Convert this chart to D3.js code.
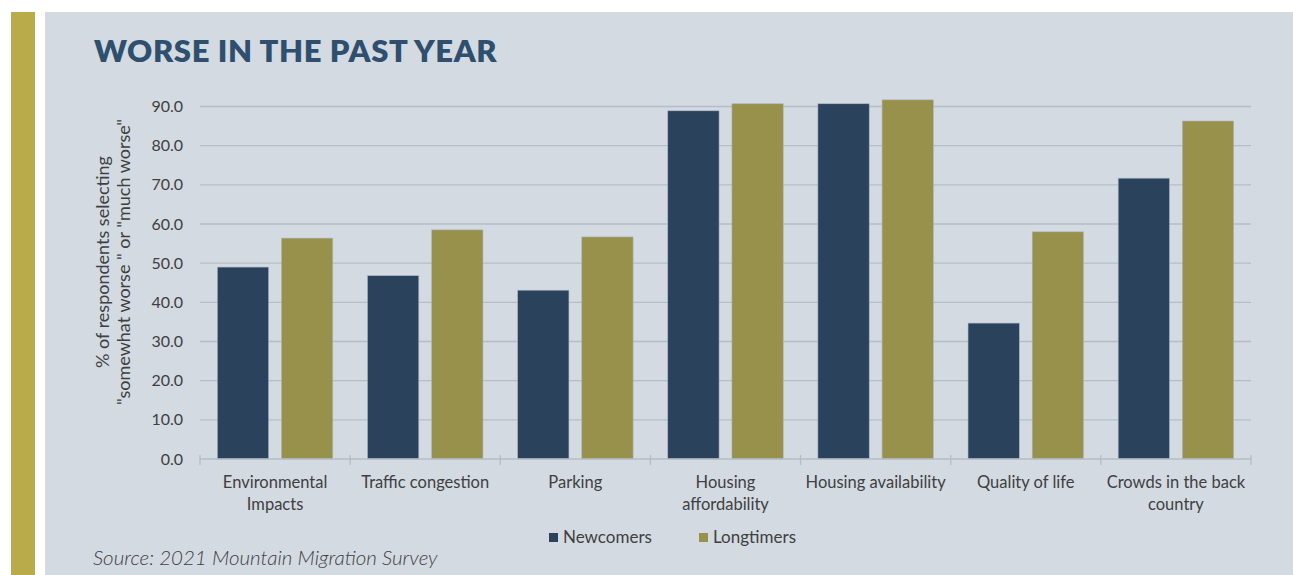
<!DOCTYPE html>
<html><head><meta charset="utf-8">
<script src="https://cdn.jsdelivr.net/npm/d3@7"></script>
<style>body{margin:0;background:#fff;}svg{display:block;}</style>
</head><body>
<svg id="c" width="1293" height="575"></svg>
<script>
const categories = [["Environmental","Impacts"],["Traffic congestion"],["Parking"],["Housing","affordability"],["Housing availability"],["Quality of life"],["Crowds in the back","country"]];
const seriesNames = ["Newcomers","Longtimers"];
const newcomers = [49.0, 46.8, 43.1, 88.9, 90.7, 34.7, 71.7];
const longtimers = [56.4, 58.5, 56.7, 90.7, 91.7, 58.0, 86.3];
const yTicks = [0,10,20,30,40,50,60,70,80,90];
const colors = ["#2b425d","#98914b"];

const svg = d3.select("#c");
svg.append("rect").attr("x",11).attr("y",12).attr("width",24).attr("height",563).attr("fill","#b9ab4a");
svg.append("rect").attr("x",45).attr("y",12).attr("width",1248).attr("height",563).attr("fill","#d3dae2");

svg.append("text").attr("x",94).attr("y",62).text("WORSE IN THE PAST YEAR")
  .attr("font-family","Lato").attr("font-weight",800).attr("font-size",31).attr("fill","#2f4f6e").attr("letter-spacing",0.6);

const x = d3.scaleBand().domain(d3.range(categories.length)).range([200,1251]);
const y = d3.scaleLinear().domain([0,90]).range([459,106.5]);
const inner = d3.scaleBand().domain([0,1]).range([0,x.bandwidth()]).paddingInner(0.2).paddingOuter(0.27);

const font = "Lato, sans-serif";
const txt = "#404040";
const g = svg.append("g");
g.selectAll("line.grid").data(yTicks.filter(d=>d>0)).join("line").attr("class","grid")
  .attr("x1",200).attr("x2",1251).attr("y1",d=>y(d)).attr("y2",d=>y(d))
  .attr("stroke","#b5bdc5").attr("stroke-width",1.3);
g.selectAll("text.yt").data(yTicks).join("text").attr("class","yt")
  .attr("x",183).attr("y",d=>y(d)+5.5).attr("text-anchor","end")
  .attr("font-family",font).attr("font-size",16).attr("fill",txt)
  .text(d=>d3.format(".1f")(d));

const data = [newcomers, longtimers];
data.forEach((vals,si)=>{
  g.selectAll("rect.s"+si).data(vals).join("rect").attr("class","s"+si)
    .attr("x",(d,i)=>x(i)+inner(si)).attr("width",inner.bandwidth())
    .attr("y",d=>y(d)).attr("height",d=>y(0)-y(d))
    .attr("fill",colors[si]).attr("stroke","#aab6c2").attr("stroke-width",0.6);
});

g.append("line").attr("x1",200).attr("x2",1251).attr("y1",y(0)).attr("y2",y(0)).attr("stroke","#b5bdc5").attr("stroke-width",1.3);
const tickPos = d3.range(categories.length+1).map(i=> i<categories.length ? x(i) : 1251);
g.selectAll("line.xt").data(tickPos).join("line").attr("class","xt")
  .attr("x1",d=>d).attr("x2",d=>d).attr("y1",y(0)-4).attr("y2",y(0)+6).attr("stroke","#b5bdc5").attr("stroke-width",1.3);

categories.forEach((lines,i)=>{
  const t = g.append("text").attr("text-anchor","middle").attr("font-family",font).attr("font-size",16.5).attr("fill",txt);
  lines.forEach((l,j)=>t.append("tspan").attr("x",x(i)+x.bandwidth()/2).attr("y",488+j*22).text(l));
});

const ttl = svg.append("g").attr("transform","translate(109,262) rotate(-90)");
ttl.append("text").attr("text-anchor","middle").attr("y",0).attr("font-family",font).attr("font-size",18).attr("fill",txt).text("% of respondents selecting");
ttl.append("text").attr("text-anchor","middle").attr("y",21).attr("font-family",font).attr("font-size",18).attr("fill",txt).text("\"somewhat worse \" or \"much worse\"");

const leg = [{n:seriesNames[0],x:549},{n:seriesNames[1],x:699}];
leg.forEach((d,i)=>{
  svg.append("rect").attr("x",d.x).attr("y",533).attr("width",9).attr("height",9).attr("fill",colors[i]);
  svg.append("text").attr("x",d.x+14).attr("y",543).attr("font-family",font).attr("font-size",17).attr("fill",txt).text(d.n);
});

svg.append("text").attr("x",93).attr("y",565).attr("font-family","Lato").attr("font-style","italic").attr("font-weight",300)
  .attr("font-size",20.5).attr("fill",txt).text("Source: 2021 Mountain Migration Survey");
</script>
</body></html>
